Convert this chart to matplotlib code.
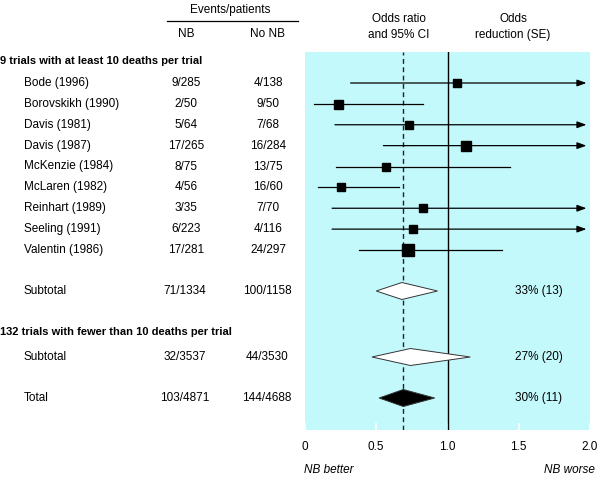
import numpy as np
import matplotlib
matplotlib.use("Agg")
import matplotlib.pyplot as plt
from matplotlib.lines import Line2D

plt.rcParams['font.family'] = ['Liberation Sans', 'DejaVu Sans']
plt.rcParams['font.size'] = 8

# ---------------- data ----------------
trials = ['Bode (1996)', 'Borovskikh (1990)', 'Davis (1981)', 'Davis (1987)',
          'McKenzie (1984)', 'McLaren (1982)', 'Reinhart (1989)', 'Seeling (1991)',
          'Valentin (1986)']
nb_events = [9, 2, 5, 17, 8, 4, 3, 6, 17]
nb_patients = [285, 50, 64, 265, 75, 56, 35, 223, 281]
ctrl_events = [4, 9, 7, 16, 13, 16, 7, 4, 24]
ctrl_patients = [138, 50, 68, 284, 75, 60, 70, 116, 297]
odds_ratio = [1.07, 0.23, 0.73, 1.13, 0.57, 0.25, 0.83, 0.76, 0.725]
ci_low = [0.32, 0.06, 0.21, 0.55, 0.22, 0.09, 0.19, 0.19, 0.38]
ci_high = [3.6, 0.83, 2.5, 2.3, 1.44, 0.66, 3.6, 3.0, 1.38]

summary_labels = ['Subtotal', 'Subtotal', 'Total']
summary_nb = ['71/1334', '32/3537', '103/4871']
summary_ctrl = ['100/1158', '44/3530', '144/4688']
summary_or = [0.68, 0.74, 0.69]
summary_low = [0.50, 0.47, 0.52]
summary_high = [0.93, 1.16, 0.91]
summary_reduction = ['33% (13)', '27% (20)', '30% (11)']
summary_fill = ['white', 'white', 'black']

overall_or = 0.69
group_titles = ['9 trials with at least 10 deaths per trial',
                '132 trials with fewer than 10 deaths per trial']
xticks = [0, 0.5, 1.0, 1.5, 2.0]
xticklabels = ['0', '0.5', '1.0', '1.5', '2.0']

# ---------------- style / layout ----------------
W, H = 600, 482
marker_px = [8.7, 9, 8.7, 10, 8.7, 8.7, 7.7, 7.3, 11.3]
trial_y = [83 + 20.875 * i for i in range(len(trials))]
summary_y = [291, 357, 398]
title_y = [61, 332]
panel_color = '#c4f9fc'

fig = plt.figure(figsize=(W / 100, H / 100), dpi=100)


def fx(px):
    return px / W


def fy(py):
    return 1 - py / H


ax = fig.add_axes([fx(305), fy(430), (590 - 305) / W, (430 - 52) / H])
ax.set_xlim(0, 2)
ax.set_ylim(430, 52)
ax.set_facecolor(panel_color)
for s in ax.spines.values():
    s.set_visible(False)
ax.set_yticks([])
ax.set_xticks(xticks)
ax.set_xticklabels(xticklabels)
ax.tick_params(axis='x', direction='in', color='white', length=5, width=1.2,
               pad=8, labelsize=8.5, labelcolor='black')

# reference lines
ax.axvline(1.0, color='black', lw=1.0, zorder=2)
ax.axvline(overall_or, color='#222222', lw=1.0, dashes=(3.5, 2.5), zorder=2)

# trials
for i in range(len(trials)):
    y = trial_y[i]
    lo, hi, est = ci_low[i], ci_high[i], odds_ratio[i]
    if hi > 2.0:
        ax.annotate('', xy=(1.975, y), xytext=(lo, y),
                    arrowprops=dict(arrowstyle='-|>,head_length=0.55,head_width=0.2',
                                    color='black', lw=0.9, mutation_scale=10,
                                    shrinkA=0, shrinkB=0), zorder=3)
    else:
        ax.plot([lo, hi], [y, y], color='black', lw=0.9, zorder=3)
    ax.plot([est], [y], marker='s', color='black', markersize=marker_px[i] * 0.72,
            linestyle='none', zorder=4)

# summary diamonds
half_h = 8.5
for j in range(len(summary_or)):
    y = summary_y[j]
    xs = [summary_low[j], summary_or[j], summary_high[j], summary_or[j]]
    ys = [y, y - half_h, y, y + half_h]
    ax.fill(xs, ys, facecolor=summary_fill[j], edgecolor='#333333', lw=0.7, zorder=4)

# ---------------- text ----------------
def txt(px, py, s, **kw):
    kw.setdefault('va', 'center')
    kw.setdefault('fontsize', 8.5)
    fig.text(fx(px), fy(py), s, **kw)


txt(230, 10, 'Events/patients', ha='center')
fig.add_artist(Line2D([fx(167), fx(298)], [fy(21), fy(21)], color='black', lw=0.9))
txt(186, 34, 'NB', ha='center')
txt(268, 34, 'No NB', ha='center')
txt(399, 19, 'Odds ratio', ha='center')
txt(399, 35, 'and 95% CI', ha='center')
txt(513, 19, 'Odds', ha='center')
txt(513, 35, 'reduction (SE)', ha='center')

for k, t in enumerate(group_titles):
    txt(0.5, title_y[k], t, ha='left', fontweight='bold', fontsize=8)

for i in range(len(trials)):
    y = trial_y[i]
    txt(24, y, trials[i], ha='left')
    txt(186, y, f'{nb_events[i]}/{nb_patients[i]}', ha='center')
    txt(268, y, f'{ctrl_events[i]}/{ctrl_patients[i]}', ha='center')

for j in range(len(summary_labels)):
    y = summary_y[j]
    txt(24, y, summary_labels[j], ha='left')
    txt(185, y, summary_nb[j], ha='center')
    txt(267, y, summary_ctrl[j], ha='center')
    txt(515, y, summary_reduction[j], ha='left')

txt(304, 470, 'NB better', ha='left', style='italic')
txt(595, 470, 'NB worse', ha='right', style='italic')

fig.savefig('out.png', dpi=100, facecolor='white')
